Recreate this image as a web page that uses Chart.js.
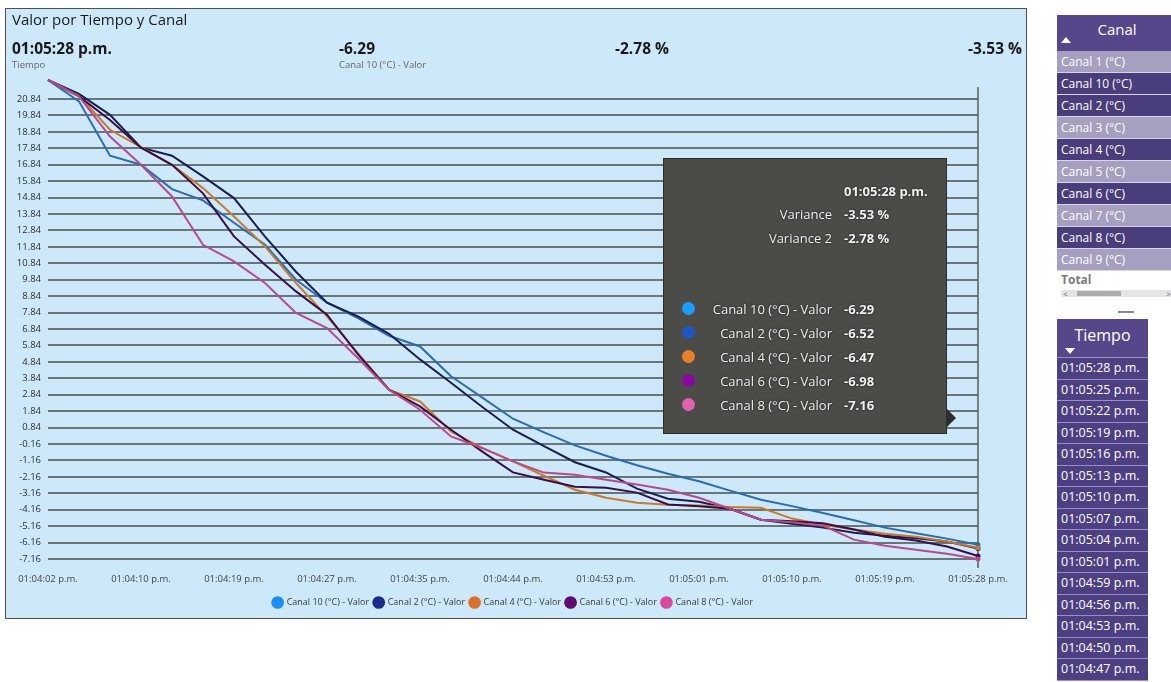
<!DOCTYPE html>
<html>
<head>
<meta charset="utf-8">
<script src="https://cdn.jsdelivr.net/npm/chart.js@4.4.1/dist/chart.umd.min.js"></script>
<style>
  html, body { margin:0; padding:0; background:#ffffff; width:1171px; height:682px; overflow:hidden; font-family:"Open Sans", "Noto Sans", sans-serif; }
  #panel { position:absolute; left:5px; top:8px; width:1022px; height:611px; background:#cde9f9; border:1.5px solid #4f4f4f; box-sizing:border-box; }
  #chartBox { position:absolute; left:0; top:0; width:1040px; height:625px; }
  .hdr { position:absolute; white-space:nowrap; color:#1a1a1a; }
  .title { left:12px; top:9px; font-size:15px; }
  .big { font-size:15.5px; font-weight:700; }
  .small { font-size:9.5px; color:#666; }
  #tip { position:absolute; left:663px; top:158px; width:284px; height:276px; background:#4b4b48; border:1.5px solid #2c2c2a; box-sizing:border-box; color:#f2f2f2; font-size:13px; }
  #tip::after { content:""; position:absolute; right:-10px; top:250px; border-left:9px solid #2c2c2a; border-top:9px solid transparent; border-bottom:9px solid transparent; }
  #tip .row { position:absolute; left:0; width:284px; height:18px; line-height:18px; white-space:nowrap; text-shadow:0 0 2px #111; }
  #tip .lab { position:absolute; right:116px; text-align:right; }
  #tip .val { position:absolute; left:180px; font-weight:700; }
  #tip .dot { position:absolute; left:18px; top:2px; width:13px; height:13px; border-radius:50%; }
  .slicer { position:absolute; font-size:12px; color:#ffffff; }
  .slicer .head { position:relative; background:#55478a; text-align:center; }
  .slicer .item { height:21px; line-height:21px; padding-left:4px; border-bottom:1px solid #d9d4e8; white-space:nowrap; box-sizing:border-box; }
</style>
</head>
<body>
<div id="panel"></div>
<div id="chartBox"><canvas id="c" width="1040" height="625"></canvas></div>

<div class="hdr title">Valor por Tiempo y Canal</div>
<div class="hdr big" id="hTime" style="left:12px; top:37px;"></div>
<div class="hdr small" style="left:12px; top:58px;">Tiempo</div>
<div class="hdr big" id="hVal" style="left:339px; top:37px;"></div>
<div class="hdr small" id="hValName" style="left:339px; top:58px;"></div>
<div class="hdr big" id="hVar2" style="left:615px; top:37px;"></div>
<div class="hdr big" id="hVar" style="right:149px; top:37px;"></div>

<div id="tip"></div>

<div class="slicer" id="canalSlicer" style="left:1057px; top:15px; width:120px;"></div>
<div style="position:absolute; left:1118px; top:311px; width:16px; height:2px; background:#8a8a8a;"></div>
<div class="slicer" id="tiempoSlicer" style="left:1057px; top:319px; width:91px;"></div>

<script>
// Time stamps of the readings (category axis)
const times = [
  "01:04:02 p.m.", "01:04:05 p.m.", "01:04:07 p.m.", "01:04:10 p.m.", "01:04:13 p.m.", "01:04:16 p.m.",
  "01:04:19 p.m.", "01:04:22 p.m.", "01:04:24 p.m.", "01:04:27 p.m.", "01:04:30 p.m.", "01:04:32 p.m.",
  "01:04:35 p.m.", "01:04:38 p.m.", "01:04:41 p.m.", "01:04:44 p.m.", "01:04:47 p.m.", "01:04:50 p.m.",
  "01:04:53 p.m.", "01:04:56 p.m.", "01:04:59 p.m.", "01:05:01 p.m.", "01:05:04 p.m.", "01:05:07 p.m.",
  "01:05:10 p.m.", "01:05:13 p.m.", "01:05:16 p.m.", "01:05:19 p.m.", "01:05:22 p.m.", "01:05:25 p.m.",
  "01:05:28 p.m."
];

// Temperature readings per channel (°C)
const canal10 = [22.00, 20.70, 17.39, 16.84, 15.36, 14.67, 13.31, 11.97, 9.84, 8.44, 7.50, 6.43, 5.78, 3.96, 2.68, 1.38,
  0.55, -0.24, -0.87, -1.45, -1.97, -2.43, -3.00, -3.55, -3.94, -4.36, -4.80, -5.25, -5.59, -5.92, -6.29];
const canal2 = [22.00, 21.15, 19.88, 17.88, 17.39, 16.13, 14.81, 12.46, 10.33, 8.44, 7.61, 6.55, 4.99, 3.57, 2.11, 0.71,
  -0.29, -1.27, -1.89, -2.88, -3.49, -3.67, -4.10, -4.77, -5.01, -5.25, -5.56, -5.74, -5.89, -6.10, -6.52];
const canal4 = [22.00, 21.04, 18.97, 17.91, 16.84, 15.42, 13.69, 11.87, 9.64, 7.61, 5.36, 3.15, 2.43, 0.61, -0.40, -1.22,
  -2.09, -2.94, -3.43, -3.73, -3.85, -3.90, -4.00, -4.04, -4.70, -5.07, -5.37, -5.62, -5.80, -6.10, -6.47];
const canal6 = [22.00, 21.00, 19.57, 17.88, 16.84, 15.10, 12.48, 10.75, 9.13, 7.71, 5.30, 3.15, 2.13, 0.71, -0.61, -1.89,
  -2.33, -2.76, -2.82, -3.12, -3.84, -3.95, -4.10, -4.77, -4.86, -4.98, -5.37, -5.80, -6.04, -6.40, -6.98];
const canal8 = [22.00, 21.00, 18.56, 16.84, 14.91, 11.97, 10.96, 9.64, 7.82, 6.90, 5.06, 3.15, 1.93, 0.30, -0.40, -1.22,
  -1.90, -2.03, -2.33, -2.63, -2.94, -3.43, -4.10, -4.77, -4.93, -5.13, -5.98, -6.35, -6.60, -6.84, -7.16];

const seriesNames = ["Canal 10 (°C) - Valor", "Canal 2 (°C) - Valor", "Canal 4 (°C) - Valor", "Canal 6 (°C) - Valor", "Canal 8 (°C) - Valor"];
const seriesData = [canal10, canal2, canal4, canal6, canal8];

// Y axis tick values
const yTicks = [-7.16, -6.16, -5.16, -4.16, -3.16, -2.16, -1.16, -0.16, 0.84, 1.84, 2.84, 3.84, 4.84, 5.84, 6.84,
  7.84, 8.84, 9.84, 10.84, 11.84, 12.84, 13.84, 14.84, 15.84, 16.84, 17.84, 18.84, 19.84, 20.84];

// Variance measures at the selected time
const variance = -3.53;
const variance2 = -2.78;

// Slicer contents
const canalOptions = ["Canal 1 (°C)", "Canal 10 (°C)", "Canal 2 (°C)", "Canal 3 (°C)", "Canal 4 (°C)", "Canal 5 (°C)",
  "Canal 6 (°C)", "Canal 7 (°C)", "Canal 8 (°C)", "Canal 9 (°C)"];
const canalSelected = ["Canal 10 (°C)", "Canal 2 (°C)", "Canal 4 (°C)", "Canal 6 (°C)", "Canal 8 (°C)"];

// Styling
const lineColors = ["#2a6bb2", "#1b1d4e", "#c9782f", "#3a0d46", "#b84a8c"];
const legendColors = ["#1a8ff0", "#1b2a86", "#d9702c", "#5e0a6e", "#d8489f"];
const tipColors = ["#1e9bff", "#1f57c0", "#e8802a", "#8a0aa0", "#e060b0"];

const hoverIndex = times.length - 1;
const fmt = v => v.toFixed(2);

// Header cards
document.getElementById('hTime').textContent = times[hoverIndex];
document.getElementById('hVal').textContent = fmt(canal10[hoverIndex]);
document.getElementById('hValName').textContent = seriesNames[0];
document.getElementById('hVar2').textContent = fmt(variance2) + ' %';
document.getElementById('hVar').textContent = fmt(variance) + ' %';

// Hover tooltip contents
(function buildTip() {
  const tip = document.getElementById('tip');
  let html = '';
  html += `<div class="row" style="top:23px"><span class="val">${times[hoverIndex]}</span></div>`;
  html += `<div class="row" style="top:46px"><span class="lab">Variance</span><span class="val">${fmt(variance)} %</span></div>`;
  html += `<div class="row" style="top:70px"><span class="lab">Variance 2</span><span class="val">${fmt(variance2)} %</span></div>`;
  seriesNames.forEach((n, i) => {
    const top = 141 + i * 24;
    html += `<div class="row" style="top:${top}px"><span class="dot" style="background:${tipColors[i]}"></span>` +
      `<span class="lab">${n}</span><span class="val">${fmt(seriesData[i][hoverIndex])}</span></div>`;
  });
  tip.innerHTML = html;
})();

// Slicers
(function buildSlicers() {
  const cs = document.getElementById('canalSlicer');
  let h = '<div class="head" style="height:36px; line-height:28px; font-size:15px;">Canal' +
    '<span style="position:absolute; left:4px; top:22px; width:0; height:0; border-left:5px solid transparent; border-right:5px solid transparent; border-bottom:6px solid #fff;"></span></div>';
  canalOptions.forEach(c => {
    const on = canalSelected.includes(c);
    h += `<div class="item" style="height:22px; line-height:22px; background:${on ? '#4a3d7b' : '#a69fc0'}">${c}</div>`;
  });
  h += '<div style="color:#7a7a7a; font-weight:700; padding-left:4px; height:18px; line-height:18px; background:#fff;">Total</div>';
  h += '<div style="position:relative; height:7px; margin:1px 4px 0 4px; background:#e4e4e4; font-size:8px; line-height:7px; color:#666;">' +
    '<span style="position:absolute; left:2px;">&lt;</span><span style="position:absolute; left:16px; top:1px; width:44px; height:5px; background:#ababab;"></span>' +
    '<span style="position:absolute; right:2px;">&gt;</span></div>';
  cs.innerHTML = h;

  const ts = document.getElementById('tiempoSlicer');
  let t = '<div class="head" style="height:38px; line-height:32px; font-size:16px; border-bottom:1px solid #9a8fc2;">Tiempo' +
    '<span style="position:absolute; left:8px; top:29px; width:0; height:0; border-left:5px solid transparent; border-right:5px solid transparent; border-top:6px solid #fff;"></span></div>';
  times.slice(-15).reverse().forEach(tm => {
    t += `<div class="item" style="background:#4d4082; border-bottom:1.5px solid #9a8fc2; height:21.5px; line-height:20px; font-size:12.5px;">${tm}</div>`;
  });
  ts.innerHTML = t;
})();

// Vertical hover rule at the selected time
const hoverRule = {
  id: 'hoverRule',
  beforeDatasetsDraw(chart) {
    const { ctx, chartArea, scales: { x } } = chart;
    const px = x.getPixelForValue(hoverIndex);
    ctx.save();
    ctx.strokeStyle = '#5b5b5b';
    ctx.lineWidth = 1.5;
    ctx.beginPath();
    ctx.moveTo(px, chartArea.top + 7);
    ctx.lineTo(px, chartArea.bottom + 9);
    ctx.stroke();
    ctx.restore();
  }
};

const allValues = seriesData.flat();

new Chart(document.getElementById('c'), {
  type: 'line',
  data: {
    labels: times,
    datasets: seriesNames.map((n, i) => ({
      label: n,
      data: seriesData[i],
      borderColor: lineColors[i],
      backgroundColor: legendColors[i],
      borderWidth: 2,
      tension: 0,
      clip: false,
      order: seriesNames.length - i,
      pointRadius: ctx => ctx.dataIndex === hoverIndex ? 2.5 : 0,
      pointBackgroundColor: lineColors[i],
      pointBorderWidth: 0
    }))
  },
  options: {
    responsive: false,
    animation: false,
    events: [],
    layout: { padding: { left: 0, top: 80, right: 62, bottom: 8 } },
    plugins: {
      tooltip: { enabled: false },
      legend: {
        position: 'bottom',
        fullSize: false,
        labels: {
          usePointStyle: true,
          pointStyle: 'circle',
          boxWidth: 9,
          boxHeight: 9,
          padding: 5,
          color: '#3a3a3a',
          font: { family: '"Open Sans", sans-serif', size: 9 },
          sort: (a, b) => a.datasetIndex - b.datasetIndex,
          generateLabels: chart => chart.data.datasets.map((d, i) => ({
            text: d.label,
            fillStyle: legendColors[i],
            strokeStyle: legendColors[i],
            lineWidth: 0,
            pointStyle: 'circle',
            datasetIndex: i,
            fontColor: '#3a3a3a',
            hidden: false
          }))
        }
      }
    },
    scales: {
      x: {
        type: 'category',
        offset: false,
        grid: { display: false, drawTicks: false },
        border: { display: false },
        ticks: {
          autoSkip: false,
          maxRotation: 0,
          padding: 15,
          color: '#444',
          font: { family: '"Open Sans", sans-serif', size: 9.5 },
          callback: (v, i) => (i % 3 === 0 ? times[i] : '')
        },
        afterFit: s => { s.height = 34; }
      },
      y: {
        type: 'linear',
        min: Math.min(...allValues),
        max: Math.max(...allValues),
        afterBuildTicks: s => { s.ticks = yTicks.map(v => ({ value: v })); },
        grid: { color: '#68767a', lineWidth: 2, drawTicks: false },
        border: { display: false },
        ticks: {
          padding: 7,
          color: '#2e2e2e',
          font: { family: '"Open Sans", sans-serif', size: 9.5 },
          callback: v => fmt(v)
        },
        afterFit: s => { s.width = 48; }
      }
    }
  },
  plugins: [hoverRule]
});
</script>
</body>
</html>
